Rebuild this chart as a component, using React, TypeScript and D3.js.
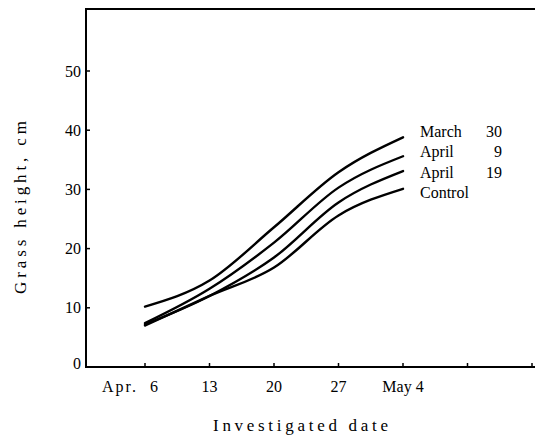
import { useEffect, useRef } from 'react'
import * as d3 from 'd3'

// days after Apr. 6
const days = [0, 7, 14, 21, 28]
const tickDays = [0, 7, 14, 21, 28, 35, 42]
const tickLabels = ['Apr.  6', '13', '20', '27', 'May 4', '', '']
const yTicks = [0, 10, 20, 30, 40, 50]

const seriesNames = ['March', 'April', 'April', 'Control']
const seriesDays = ['30', '9', '19', '']
const marchThirty = [10.2, 14.6, 23.6, 32.9, 38.8]
const aprilNine = [7.4, 13.2, 21.0, 30.3, 35.6]
const aprilNineteen = [7.2, 12.0, 18.5, 27.8, 33.1]
const control = [7.0, 12.0, 16.8, 25.6, 30.1]
const seriesValues = [marchThirty, aprilNine, aprilNineteen, control]

export default function App() {
  const svgRef = useRef<SVGSVGElement>(null)

  useEffect(() => {
    if (!svgRef.current) return
    const svg = d3.select(svgRef.current)
    svg.selectAll('*').remove()

    const width = 535
    const height = 445
    const left = 86
    const top = 9

    const x = d3.scaleLinear().domain([0, 28]).range([145, 403])
    const y = d3.scaleLinear().domain([0, 50]).range([367, 71])
    const bottom = y(0)

    const font = "'Liberation Serif', 'DejaVu Serif', 'Noto Serif', 'Times New Roman', Times, serif"

    // frame
    svg.append('path')
      .attr('d', `M${width + 5},${top}H${left}V${bottom}H${width + 5}`)
      .attr('fill', 'none')
      .attr('stroke', '#000')
      .attr('stroke-width', 2)

    // y ticks
    const yg = svg.append('g')
    yTicks.forEach(t => {
      if (t > 0) {
        yg.append('line')
          .attr('x1', left).attr('x2', left + 4)
          .attr('y1', y(t)).attr('y2', y(t))
          .attr('stroke', '#000').attr('stroke-width', 1.5)
      }
      yg.append('text')
        .attr('x', 81)
        .attr('y', t === 0 ? y(t) - 4 : y(t))
        .attr('dy', '0.35em')
        .attr('text-anchor', 'end')
        .attr('font-family', font)
        .attr('font-size', 16)
        .text(t)
    })

    // x ticks
    const xg = svg.append('g')
    tickDays.forEach((d, i) => {
      xg.append('line')
        .attr('x1', x(d)).attr('x2', x(d))
        .attr('y1', bottom).attr('y2', bottom - 4)
        .attr('stroke', '#000').attr('stroke-width', 1.5)
      if (!tickLabels[i]) return
      const t = xg.append('text')
        .attr('x', i === 0 ? x(d) - 43 : x(d))
        .attr('y', 392)
        .attr('text-anchor', i === 0 ? 'start' : 'middle')
        .attr('xml:space', 'preserve')
        .style('white-space', 'pre')
        .attr('font-family', font)
        .attr('font-size', 16)
        .text(tickLabels[i])
      if (i === 0) t.attr('textLength', 56).attr('lengthAdjust', 'spacing')
    })

    // axis titles
    svg.append('text')
      .attr('x', 213)
      .attr('y', 431)
      .attr('textLength', 175)
      .attr('lengthAdjust', 'spacing')
      .attr('font-family', font)
      .attr('font-size', 17)
      .text('Investigated date')

    svg.append('text')
      .attr('transform', 'translate(26,294) rotate(-90)')
      .attr('textLength', 173)
      .attr('lengthAdjust', 'spacing')
      .attr('font-family', font)
      .attr('font-size', 17)
      .text('Grass height, cm')

    // curves
    const line = d3.line<number>()
      .x((_, i) => x(days[i]))
      .y(v => y(v))
      .curve(d3.curveMonotoneX)

    seriesValues.forEach(vals => {
      svg.append('path')
        .attr('d', line(vals))
        .attr('fill', 'none')
        .attr('stroke', '#000')
        .attr('stroke-width', 2.4)
        .attr('stroke-linecap', 'round')
    })

    // labels at curve ends
    seriesNames.forEach((name, i) => {
      const by = 137 + i * 20.3
      svg.append('text')
        .attr('x', x(28) + 17)
        .attr('y', by)
        .attr('font-family', font)
        .attr('font-size', 16)
        .text(name)
      if (seriesDays[i]) {
        svg.append('text')
          .attr('x', x(28) + 99)
          .attr('y', by)
          .attr('text-anchor', 'end')
          .attr('font-family', font)
          .attr('font-size', 16)
          .text(seriesDays[i])
      }
    })

    svg.attr('width', width).attr('height', height)
  }, [])

  return (
    <svg
      ref={svgRef}
      width={535}
      height={445}
      style={{ position: 'absolute', left: 0, top: 0, background: '#fff' }}
    />
  )
}
